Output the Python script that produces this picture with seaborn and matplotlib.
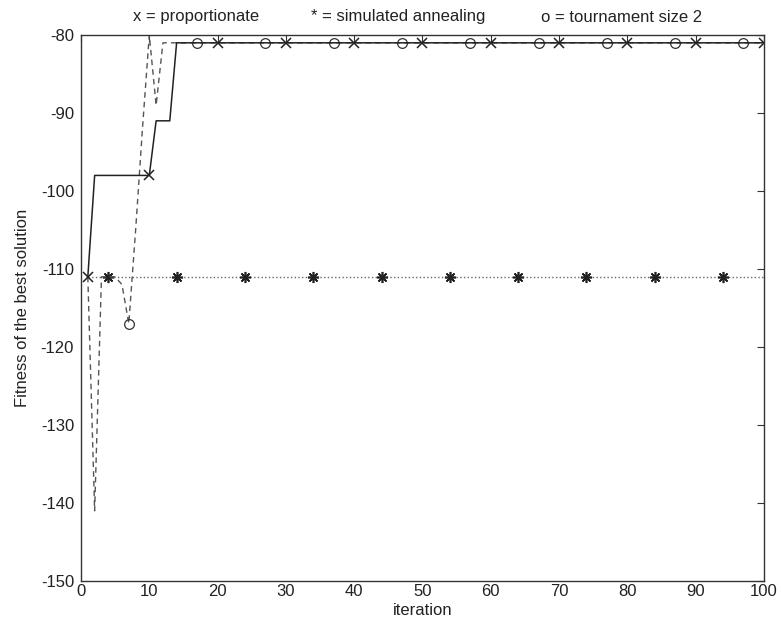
import numpy as np
import pandas as pd
import seaborn as sns
import matplotlib.pyplot as plt

# -----------------------------------------------------
# Data
# -----------------------------------------------------

iteration = list(range(1, 101))

proportionate = [-111] + [-98] * 9 + [-91] * 3 + [-81] * 87
annealing = [-111] * 100
tournament = [-111, -141, -111, -111, -111, -112, -117, -105, -92, -80, -89] + [-81] * 89

# iterations that carry a marker
prop_marks = [1] + list(range(10, 101, 10))
anneal_marks = list(range(4, 100, 10))
tourn_marks = list(range(7, 100, 10))

key_labels = ["x = proportionate", "* = simulated annealing", "o = tournament size 2"]
x_ticks = list(range(0, 101, 10))
y_ticks = list(range(-150, -79, 10))

df = pd.DataFrame({
    "iteration": iteration,
    "proportionate": proportionate,
    "annealing": annealing,
    "tournament": tournament,
})

# -----------------------------------------------------
# Figure
# -----------------------------------------------------

sns.set_style("white")
plt.rcParams["font.family"] = ["Liberation Sans", "DejaVu Sans"]
plt.rcParams["axes.unicode_minus"] = False

fig = plt.figure(figsize=(7.81, 6.31), dpi=100)
ax = fig.add_axes([0.1037, 0.0792, 0.8745, 0.8653])

sns.lineplot(data=df, x="iteration", y="annealing", ax=ax, color="#666666", lw=1.0,
             linestyle=":", marker=(8, 2, 0), markersize=8, markeredgewidth=1.2,
             markeredgecolor="#222222", markevery=[i - 1 for i in anneal_marks])
sns.lineplot(data=df, x="iteration", y="tournament", ax=ax, color="#555555", lw=1.0,
             dashes=(4, 3), marker="o", markersize=7, markerfacecolor="none",
             markeredgewidth=0.9, markeredgecolor="#333333",
             markevery=[i - 1 for i in tourn_marks])
sns.lineplot(data=df, x="iteration", y="proportionate", ax=ax, color="#222222", lw=1.1,
             marker="x", markersize=7, markeredgewidth=1.1, markeredgecolor="#222222",
             markevery=[i - 1 for i in prop_marks])

ax.set_xlim(0, 100)
ax.set_ylim(-150, -80)
ax.set_xticks(x_ticks)
ax.set_yticks(y_ticks)
ax.tick_params(direction="in", length=5, width=0.8, colors="#333333",
               labelcolor="#222222", labelsize=12, top=True, right=True)
ax.tick_params(axis="x", pad=2)
ax.tick_params(axis="y", pad=5)
for s in ax.spines.values():
    s.set_color("#333333")
    s.set_linewidth(1.0)

ax.set_xlabel("iteration", fontsize=12, labelpad=3, color="#222222")
ax.set_ylabel("Fitness of the best solution", fontsize=12, labelpad=8, color="#222222")

for label, xc in zip(key_labels, [196, 398, 622]):
    fig.text(xc / 781, 1 - 17 / 631, label, ha="center", va="center",
             fontsize=12, color="#222222")

fig.savefig("out.png", dpi=100)
